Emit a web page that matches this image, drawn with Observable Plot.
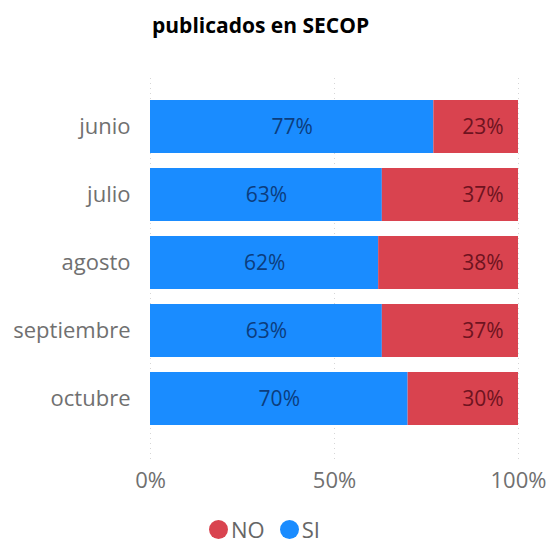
<!DOCTYPE html>
<html>
<head>
<meta charset="utf-8">
<script src="https://cdn.jsdelivr.net/npm/d3@7"></script>
<script src="https://cdn.jsdelivr.net/npm/@observablehq/plot@0.6"></script>
<style>
  body { margin: 0; background: #fff; font-family: "Open Sans", sans-serif; overflow: hidden; }
  #wrap { width: 550px; }
  #title { height: 60px; box-sizing: border-box; padding-top: 11px; padding-left: 152px; text-align: left; font-weight: bold; font-size: 21px; color: #000; white-space: nowrap; }
  #chart svg { display: block; }
  #legend { display: flex; align-items: center; padding-left: 209px; margin-top: 24px; font-size: 22px; color: #666; line-height: 20px; height: 20px; }
  .sw { width: 19px; height: 19px; border-radius: 50%; display: inline-block; margin-right: 3px; }
  .item { display: flex; align-items: center; margin-right: 15px; }
</style>
</head>
<body>
<div id="wrap">
  <div id="title">publicados en SECOP</div>
  <div id="chart"></div>
  <div id="legend"></div>
</div>
<script>
const months = ["junio", "julio", "agosto", "septiembre", "octubre"];
const siValues = [77, 63, 62, 63, 70];
const noValues = [23, 37, 38, 37, 30];
const series = ["NO", "SI"];
const seriesColors = ["#d9434f", "#1a8cff"];
const labelColors = {SI: "#0c3d7d", NO: "#6e1320"};
const xTicks = [0, 50, 100];

const data = [];
months.forEach((m, i) => {
  data.push({month: m, serie: "SI", value: siValues[i]});
  data.push({month: m, serie: "NO", value: noValues[i]});
});

const chart = Plot.plot({
  width: 550,
  height: 435,
  marginLeft: 150,
  marginRight: 32,
  marginTop: 23,
  marginBottom: 52,
  style: {fontFamily: "'Open Sans', sans-serif", fontSize: "22px", color: "#707070", background: "#fff"},
  x: {domain: [0, 100], ticks: xTicks, tickFormat: d => d + "%", tickSize: 0, tickPadding: 29, label: null},
  y: {domain: months, padding: 0.22, tickSize: 0, tickPadding: 20, label: null},
  color: {domain: series, range: seriesColors},
  marks: [
    Plot.ruleX(xTicks, {stroke: "#bbb", strokeOpacity: 0.6, strokeDasharray: "1,4", insetTop: -5, insetBottom: -17}),
    Plot.barX(data, Plot.stackX({x: "value", y: "month", fill: "serie", order: null})),
    Plot.text(data, Plot.stackX({x: "value", y: "month", order: null,
      text: d => d.serie === "SI" ? d.value + "%" : null,
      fill: labelColors.SI, fontSize: 21})),
    Plot.text(data, Plot.stackX2({x: "value", y: "month", order: null,
      text: d => d.serie === "NO" ? d.value + "%" : null,
      fill: labelColors.NO, fontSize: 21, textAnchor: "end", dx: -15}))
  ]
});
document.getElementById("chart").appendChild(chart);

const legend = document.getElementById("legend");
series.forEach((s, i) => {
  const item = document.createElement("div");
  item.className = "item";
  const sw = document.createElement("span");
  sw.className = "sw";
  sw.style.background = seriesColors[i];
  const t = document.createElement("span");
  t.textContent = s;
  item.appendChild(sw);
  item.appendChild(t);
  legend.appendChild(item);
});
</script>
</body>
</html>
